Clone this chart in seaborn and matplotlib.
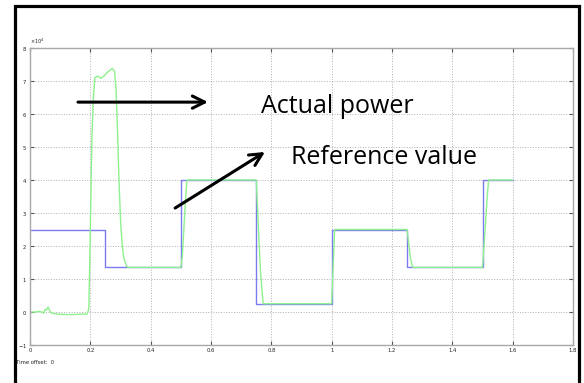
import numpy as np
import pandas as pd
import seaborn as sns
import matplotlib
matplotlib.use("Agg")
import matplotlib.pyplot as plt
from matplotlib.patches import Rectangle

# ---- data (power in W) ----
ref_time = [0.0, 0.25, 0.5, 0.75, 1.0, 1.25, 1.5, 1.6]
ref_power = [25000, 13500, 40000, 2500, 25000, 13500, 40000, 40000]

act_time = [0.0, 0.02, 0.03, 0.04, 0.045, 0.05, 0.055, 0.06, 0.065, 0.07, 0.08,
            0.10, 0.13, 0.16, 0.18, 0.185, 0.19, 0.195, 0.20, 0.205, 0.21, 0.215,
            0.225, 0.235, 0.245, 0.255, 0.265, 0.273, 0.28, 0.285, 0.29, 0.295,
            0.30, 0.305, 0.31, 0.315, 0.32, 0.325, 0.5, 0.505, 0.51, 0.515, 0.52,
            0.75, 0.755, 0.76, 0.765, 0.773, 1.0, 1.005, 1.01, 1.25, 1.255, 1.26,
            1.265, 1.27, 1.5, 1.505, 1.51, 1.515, 1.52, 1.6]
act_power = [0, 0, 200, 0, -400, 800, 600, 1500, 500, -300, -500,
             -700, -800, -700, -600, -700, -500, 1000, 25000, 52000, 65000, 71000,
             71500, 70800, 71500, 72500, 73300, 73800, 73000, 68000, 55000, 40000,
             28000, 21000, 17000, 15000, 14000, 13500, 13500, 17000, 25000, 33000, 40000,
             40000, 30000, 20000, 11000, 2500, 2500, 14000, 25000, 25000, 21000, 17000,
             14500, 13500, 13500, 20000, 27000, 34000, 40000, 40000]

x_ticks = [0, 0.2, 0.4, 0.6, 0.8, 1, 1.2, 1.4, 1.6, 1.8]
x_tick_labels = ["0", "0.2", "0.4", "0.6", "0.8", "1", "1.2", "1.4", "1.6", "1.8"]
y_ticks = [-10000, 0, 10000, 20000, 30000, 40000, 50000, 60000, 70000, 80000]

ref_df = pd.DataFrame({"time": ref_time, "power": ref_power})
act_df = pd.DataFrame({"time": act_time, "power": act_power})

sns.set_style("white")
plt.rcParams["font.family"] = ["DejaVu Sans"]

fig = plt.figure(figsize=(5.84, 3.83), dpi=100)
ax = fig.add_axes([30 / 584, 1 - 345 / 383, (573 - 30) / 584, (345 - 48) / 383])

sns.lineplot(data=ref_df, x="time", y="power", ax=ax, color="#7b7bf0",
             drawstyle="steps-post", estimator=None, sort=False, lw=1.0)
sns.lineplot(data=act_df, x="time", y="power", ax=ax, color="#8ef08e",
             estimator=None, sort=False, lw=1.0)

ax.set_xlim(0, 1.8)
ax.set_ylim(-10000, 80000)
ax.set_xticks(x_ticks)
ax.set_xticklabels(x_tick_labels)
ax.set_yticks(y_ticks)
ax.ticklabel_format(axis="y", style="sci", scilimits=(4, 4), useMathText=True)
ax.yaxis.get_offset_text().set_fontsize(3.5)
ax.set_xlabel("")
ax.set_ylabel("")
ax.grid(True, linestyle=":", color="#b0b0b0", linewidth=0.7)
for s in ax.spines.values():
    s.set_color("#a8a8a8")
    s.set_linewidth(1.0)
ax.tick_params(direction="in", length=3, width=0.8, color="#555555",
               labelsize=3.8, labelcolor="#222222", pad=2,
               top=True, right=True, bottom=True, left=True)

# annotations
arrow_style = dict(arrowstyle="->", lw=2.2, color="black", mutation_scale=22,
                   shrinkA=0, shrinkB=0)
ax.annotate("", xy=(0.590, 63600), xytext=(0.159, 63600), arrowprops=arrow_style)
ax.annotate("", xy=(0.779, 48500), xytext=(0.481, 31500), arrowprops=arrow_style)
ax.text(0.765, 62400, "Actual power", fontsize=18, family=["Open Sans", "DejaVu Sans"],
        va="center", ha="left", color="black")
ax.text(0.865, 46800, "Reference value", fontsize=18, family=["Open Sans", "DejaVu Sans"],
        va="center", ha="left", color="black")

fig.text(16 / 584, 1 - 363 / 383, "Time offset:  0", fontsize=3.8, va="center",
         ha="left", color="#222222", zorder=12)

fig.patches.append(Rectangle((14.5 / 584, -0.1), (578.5 - 14.5) / 584, 1.1 - 6.5 / 383,
                             transform=fig.transFigure, fill=False,
                             edgecolor="black", linewidth=2.3, zorder=10))

fig.savefig("out.png", dpi=100)
